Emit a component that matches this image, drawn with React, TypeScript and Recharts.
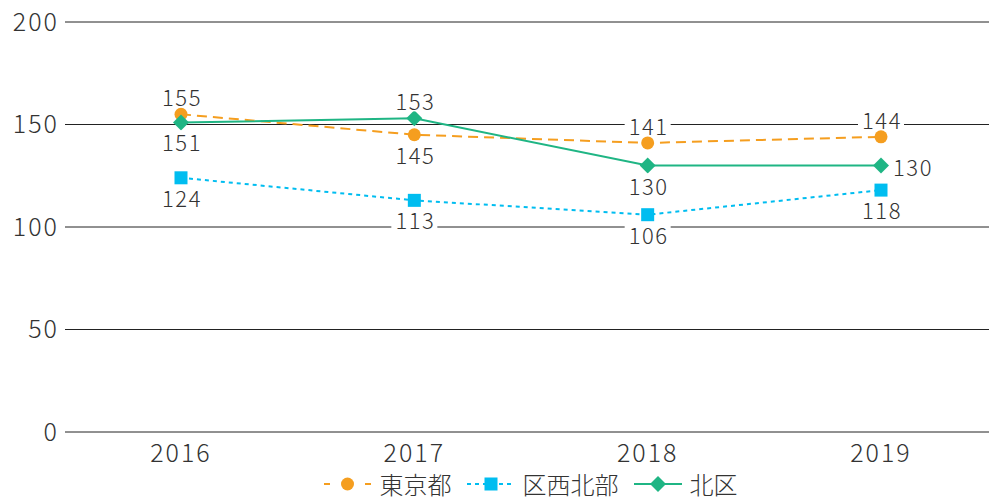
import React from 'react';
import {
  LineChart, Line, XAxis, YAxis, CartesianGrid, Legend, LabelList,
} from 'recharts';

const YEARS = ['2016', '2017', '2018', '2019'];
const TOKYO = [155, 145, 141, 144];
const SEIHOKU = [124, 113, 106, 118];
const KITA = [151, 153, 130, 130];
const Y_TICKS = [0, 50, 100, 150, 200];

// where each value label sits relative to its point
const TOKYO_POS = ['top', 'bottom', 'top', 'top'];
const SEIHOKU_POS = ['bottom', 'bottom', 'bottom', 'bottom'];
const KITA_POS = ['bottom', 'top', 'bottom', 'right'];

const ORANGE = '#F59E1F';
const BLUE = '#00BDF0';
const GREEN = '#1FB584';
const TEXT = '#333333';
const FONT = '"Noto Sans CJK JP", "Noto Sans", sans-serif';
const WEIGHT = 300;

const data = YEARS.map((year, i) => ({
  year,
  tokyo: TOKYO[i],
  seihoku: SEIHOKU[i],
  kita: KITA[i],
}));

const CircleDot = (props: any) => {
  const { cx, cy } = props;
  if (cx == null || cy == null) return null;
  return <circle cx={cx} cy={cy} r={6.5} fill={ORANGE} />;
};

const SquareDot = (props: any) => {
  const { cx, cy } = props;
  if (cx == null || cy == null) return null;
  return <rect x={cx - 6.5} y={cy - 6.5} width={13} height={13} fill={BLUE} />;
};

const DiamondDot = (props: any) => {
  const { cx, cy } = props;
  if (cx == null || cy == null) return null;
  return (
    <polygon
      points={`${cx},${cy - 8} ${cx + 8},${cy} ${cx},${cy + 8} ${cx - 8},${cy}`}
      fill={GREEN}
    />
  );
};

const makeLabel = (positions: string[]) => (props: any) => {
  const { x, y, value, index } = props;
  const pos = positions[index];
  const text = String(value);
  const w = text.length * 14 + 4;
  let cx = x;
  let cy = y;
  if (pos === 'top') cy = y - 18;
  if (pos === 'bottom') cy = y + 19;
  if (pos === 'right') cx = x + 8 + w / 2;
  return (
    <g>
      <rect x={cx - w / 2} y={cy - 11} width={w} height={22} fill="#fff" />
      <text
        x={cx + 1}
        y={cy}
        textAnchor="middle"
        dominantBaseline="central"
        fontSize={22}
        fontFamily={FONT}
        fontWeight={WEIGHT}
        letterSpacing={1.5}
        fill={TEXT}
      >
        {text}
      </text>
    </g>
  );
};

const LegendIcon = ({ kind }: { kind: string }) => {
  if (kind === 'tokyo') {
    return (
      <svg width={48} height={20}>
        <line x1={0} y1={10} x2={6} y2={10} stroke={ORANGE} strokeWidth={2} />
        <line x1={41} y1={10} x2={47} y2={10} stroke={ORANGE} strokeWidth={2} />
        <circle cx={23.5} cy={10} r={6.5} fill={ORANGE} />
      </svg>
    );
  }
  if (kind === 'seihoku') {
    return (
      <svg width={48} height={20}>
        <line x1={0} y1={10} x2={48} y2={10} stroke={BLUE} strokeWidth={2} strokeDasharray="4 4" />
        <rect x={17.5} y={3.5} width={13} height={13} fill={BLUE} />
      </svg>
    );
  }
  return (
    <svg width={48} height={20}>
      <line x1={0} y1={10} x2={48} y2={10} stroke={GREEN} strokeWidth={2} />
      <polygon points="24,2 32,10 24,18 16,10" fill={GREEN} />
    </svg>
  );
};

const LEGEND_ITEMS = [
  { key: 'tokyo', name: '東京都' },
  { key: 'seihoku', name: '区西北部' },
  { key: 'kita', name: '北区' },
];

const CustomLegend = () => (
  <div
    style={{
      display: 'flex',
      justifyContent: 'center',
      alignItems: 'center',
      height: 35,
      gap: 15,
      paddingLeft: 72,
      fontFamily: FONT,
      fontWeight: WEIGHT,
      fontSize: 24,
      color: TEXT,
    }}
  >
    {LEGEND_ITEMS.map((item) => (
      <div key={item.key} style={{ display: 'flex', alignItems: 'center', gap: 8 }}>
        <LegendIcon kind={item.key} />
        <span style={{ lineHeight: '35px' }}>{item.name}</span>
      </div>
    ))}
  </div>
);

const tickStyle = {
  fontSize: 25, fill: TEXT, fontFamily: FONT, fontWeight: WEIGHT, letterSpacing: 2,
};

export default function App() {
  return (
    <div style={{ position: 'absolute', left: 0, top: 0, background: '#fff' }}>
      <LineChart
        width={989}
        height={501}
        data={data}
        margin={{ top: 22, right: 0, bottom: 0, left: 0 }}
      >
        <CartesianGrid vertical={false} stroke="#222" strokeWidth={1} />
        <XAxis
          dataKey="year"
          axisLine={false}
          tickLine={false}
          height={34}
          tickMargin={6}
          padding={{ left: 116, right: 108 }}
          tick={tickStyle}
        />
        <YAxis
          domain={[0, 200]}
          ticks={Y_TICKS}
          width={65}
          axisLine={false}
          tickLine={false}
          tickMargin={0}
          tick={tickStyle}
        />
        <Legend verticalAlign="bottom" content={<CustomLegend />} />
        <Line
          dataKey="tokyo"
          name="東京都"
          stroke={ORANGE}
          strokeWidth={2}
          strokeDasharray="10 6"
          dot={<CircleDot />}
          activeDot={false}
          isAnimationActive={false}
        >
          <LabelList dataKey="tokyo" content={makeLabel(TOKYO_POS)} />
        </Line>
        <Line
          dataKey="seihoku"
          name="区西北部"
          stroke={BLUE}
          strokeWidth={2}
          strokeDasharray="4 4"
          dot={<SquareDot />}
          activeDot={false}
          isAnimationActive={false}
        >
          <LabelList dataKey="seihoku" content={makeLabel(SEIHOKU_POS)} />
        </Line>
        <Line
          dataKey="kita"
          name="北区"
          stroke={GREEN}
          strokeWidth={2}
          dot={<DiamondDot />}
          activeDot={false}
          isAnimationActive={false}
        >
          <LabelList dataKey="kita" content={makeLabel(KITA_POS)} />
        </Line>
      </LineChart>
    </div>
  );
}
